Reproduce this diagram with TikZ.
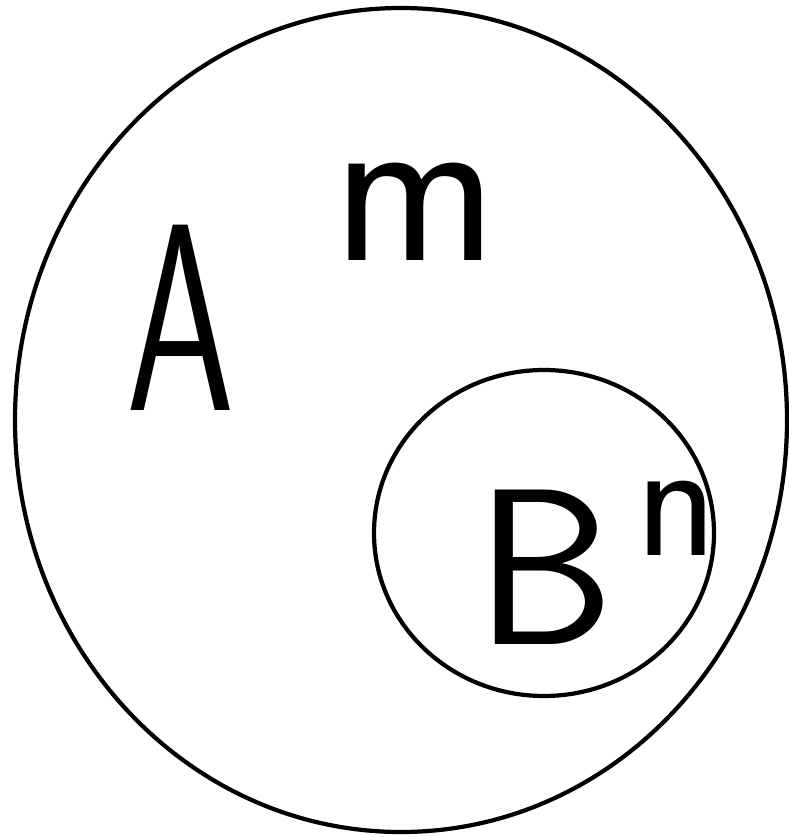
\documentclass[tikz,border=0pt]{standalone}
\usetikzlibrary{positioning,shapes.geometric}

\begin{document}
\begin{tikzpicture}[
  x=0.03cm, y=-0.03cm,
  ring/.style={draw=black, line width=3.6pt},
  lett/.style={inner sep=0pt, font=\sffamily\fontsize{#1}{#1}\selectfont}
]
\useasboundingbox (0,0) rectangle (789,837);
\node[ring, ellipse, minimum width=772*0.03cm, minimum height=824*0.03cm, inner sep=0pt] (outer) at (401,420) {};
\node[ring, ellipse, minimum width=340*0.03cm, minimum height=326*0.03cm, inner sep=0pt] (inner) at (544,533) {};
\node[lett=228pt, xscale=0.65] (A) at (181,318) {A};
\node[lett=190pt] (m) at (415,212) {m};
\node[lett=190pt] (B) at (545,567) {B};
\node[lett=145pt] (n) at (677,518) {n};
\end{tikzpicture}
\end{document}
